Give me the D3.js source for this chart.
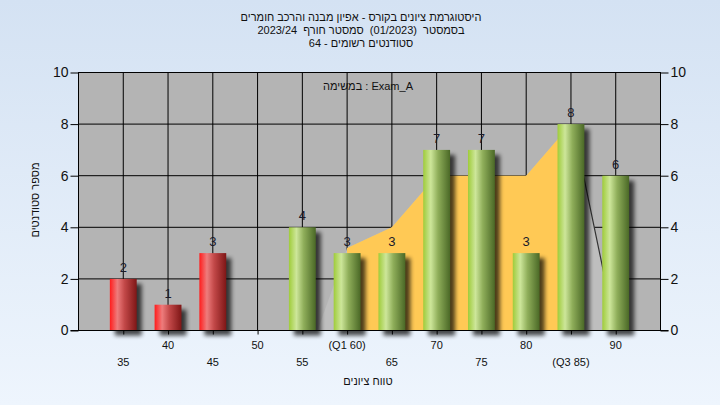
<!DOCTYPE html>
<html><head><meta charset="utf-8">
<script src="https://cdn.jsdelivr.net/npm/d3@7"></script>
<style>
html,body{margin:0;padding:0;background:#e4eefa;}
svg{display:block;font-family:"Liberation Sans",Arial,sans-serif;}
</style></head>
<body>
<svg id="chart" width="720" height="405"></svg>
<script>
// ---- data ----
const categories = [35, 40, 45, 50, 55, 60, 65, 70, 75, 80, 85, 90];
const counts     = [2, 1, 3, 0, 4, 3, 3, 7, 7, 3, 8, 6];
const tickLabels = ["35", "40", "45", "50", "55", "(Q1 60)", "65", "70", "75", "80", "(Q3 85)", "90"];
const yTicks     = [0, 2, 4, 6, 8, 10];
const areaX      = [56.7, 60, 65, 70, 75, 80, 85, 85.8, 90];
const areaY      = [0, 3.2, 4, 6, 6, 6, 8, 7.0, 0];
const q1 = 60, q3 = 85, passMark = 55;
const titleLines = [
  "היסטוגרמת ציונים בקורס - אפיון מבנה והרכב חומרים",
  "בסמסטר  (01/2023)  סמסטר חורף  2023/24",
  "סטודנטים רשומים - 64"
];
const taskLabel = "במשימה : Exam_A";
const xTitle = "טווח ציונים";
const yTitle = "מספר סטודנטים";

// ---- layout ----
const svg = d3.select("#chart");
const W = 720, H = 405;
const x = d3.scaleLinear().domain([30, 95]).range([78.5, 660.5]);
const y = d3.scaleLinear().domain([0, 10]).range([330.5, 72.5]);
const barW = x(33) - x(30);

const defs = svg.append("defs");
const bg = defs.append("linearGradient").attr("id", "bg").attr("x1", 0).attr("y1", 0).attr("x2", 0).attr("y2", 1);
bg.append("stop").attr("offset", "0%").attr("stop-color", "#d4e2f3");
bg.append("stop").attr("offset", "100%").attr("stop-color", "#eef5fd");

function barGrad(id, c0, c1, c2, c3) {
  const g = defs.append("linearGradient").attr("id", id).attr("x1", 0).attr("x2", 1).attr("y1", 0).attr("y2", 0);
  g.append("stop").attr("offset", "0%").attr("stop-color", c0);
  g.append("stop").attr("offset", "28%").attr("stop-color", c1);
  g.append("stop").attr("offset", "55%").attr("stop-color", c2);
  g.append("stop").attr("offset", "100%").attr("stop-color", c3);
}
barGrad("gRed", "#ff1c1c", "#ee7c7c", "#c24848", "#7e1616");
barGrad("gGreen", "#9fcc3a", "#cde69a", "#8fae5a", "#4a6826");

const blur = defs.append("filter").attr("id", "shadow").attr("x", "-50%").attr("y", "-50%").attr("width", "200%").attr("height", "200%");
blur.append("feGaussianBlur").attr("stdDeviation", 2);

defs.append("clipPath").attr("id", "qclip").append("rect")
  .attr("x", x(q1)).attr("y", 0).attr("width", x(q3) - x(q1)).attr("height", H);

svg.append("rect").attr("width", W).attr("height", H).attr("fill", "url(#bg)");

// titles
svg.append("g").selectAll("text").data(titleLines).join("text")
  .attr("x", 361).attr("y", (d, i) => 21 + i * 12.8)
  .attr("text-anchor", "middle").attr("direction", "rtl")
  .style("unicode-bidi", "embed").style("white-space", "pre")
  .attr("font-size", 11).attr("fill", "#111").text(d => d);

// plot background
svg.append("rect").attr("x", x(30)).attr("y", y(10)).attr("width", x(95) - x(30)).attr("height", y(0) - y(10))
  .attr("fill", "#b4b4b4");

// gridlines
svg.append("g").selectAll("line").data(yTicks).join("line")
  .attr("x1", x(30)).attr("x2", x(95)).attr("y1", d => y(d)).attr("y2", d => y(d))
  .attr("stroke", "#000").attr("stroke-width", 1);
svg.append("g").selectAll("line").data(categories).join("line")
  .attr("x1", d => x(d)).attr("x2", d => x(d)).attr("y1", y(0)).attr("y2", y(10))
  .attr("stroke", "#000").attr("stroke-width", 1);

// area
const areaPts = areaX.map((v, i) => [v, areaY[i]]);
const area = d3.area().x(d => x(d[0])).y0(y(0)).y1(d => y(d[1]));
svg.append("path").attr("d", area(areaPts)).attr("fill", "#bebebe");
svg.append("path").attr("d", area(areaPts)).attr("fill", "#ffc955").attr("clip-path", "url(#qclip)");
svg.append("path").attr("d", d3.line().x(d => x(d[0])).y(d => y(d[1]))(areaPts.filter(d => d[0] >= q3)))
  .attr("fill", "none").attr("stroke", "#333").attr("stroke-width", 1.2);

// bars
const bars = categories.map((c, i) => ({c, v: counts[i]})).filter(d => d.v > 0);
svg.append("g").selectAll("rect").data(bars).join("rect")
  .attr("x", d => x(d.c) - barW / 2 + 5).attr("y", d => y(d.v) + 5)
  .attr("width", barW).attr("height", d => y(0) - y(d.v))
  .attr("fill", "#000").attr("opacity", 0.7).attr("filter", "url(#shadow)");
svg.append("g").selectAll("rect").data(bars).join("rect")
  .attr("x", d => x(d.c) - barW / 2).attr("y", d => y(d.v))
  .attr("width", barW).attr("height", d => y(0) - y(d.v))
  .attr("fill", d => d.c < passMark ? "url(#gRed)" : "url(#gGreen)");
svg.append("g").selectAll("text").data(bars).join("text")
  .attr("x", d => x(d.c)).attr("y", d => y(d.v) - 7)
  .attr("text-anchor", "middle").attr("font-size", 13).attr("fill", "#1a1a2a").text(d => d.v);

// task label
svg.append("text").attr("x", 368).attr("y", 90).attr("text-anchor", "middle")
  .attr("font-size", 11).attr("fill", "#111").text(taskLabel);

// border
svg.append("rect").attr("x", x(30)).attr("y", y(10)).attr("width", x(95) - x(30)).attr("height", y(0) - y(10))
  .attr("fill", "none").attr("stroke", "#000").attr("stroke-width", 1);

// axes
const yl = svg.append("g").attr("transform", `translate(${x(30)},0)`)
  .call(d3.axisLeft(y).tickValues(yTicks).tickSize(8).tickPadding(2));
const yr = svg.append("g").attr("transform", `translate(${x(95)},0)`)
  .call(d3.axisRight(y).tickValues(yTicks).tickSize(8).tickPadding(2));
[yl, yr].forEach(g => {
  g.select(".domain").remove();
  g.selectAll("line").attr("stroke", "#000");
  g.selectAll("text").attr("font-size", 14).attr("fill", "#111").attr("font-family", "Liberation Sans, Arial, sans-serif");
});
const xb = svg.append("g").attr("transform", `translate(0,${y(0)})`)
  .call(d3.axisBottom(x).tickValues(categories).tickSize(4).tickFormat(""));
xb.select(".domain").remove();
xb.selectAll("line").attr("stroke", "#000");
svg.append("line").attr("x1", x(30) - 8).attr("x2", x(95) + 8).attr("y1", y(0)).attr("y2", y(0)).attr("stroke", "#000");

svg.append("g").selectAll("text").data(categories).join("text")
  .attr("x", d => x(d)).attr("y", (d, i) => i % 2 === 1 ? 349 : 365.5)
  .attr("text-anchor", "middle").attr("font-size", 11).attr("fill", "#111")
  .text((d, i) => tickLabels[i]);

svg.append("text").attr("x", 368).attr("y", 385).attr("text-anchor", "middle")
  .attr("font-size", 11).attr("fill", "#111").text(xTitle);
svg.append("text").attr("transform", "translate(38.5,200) rotate(-90)").attr("text-anchor", "middle")
  .attr("font-size", 11).attr("fill", "#111").text(yTitle);
</script>
</body></html>
